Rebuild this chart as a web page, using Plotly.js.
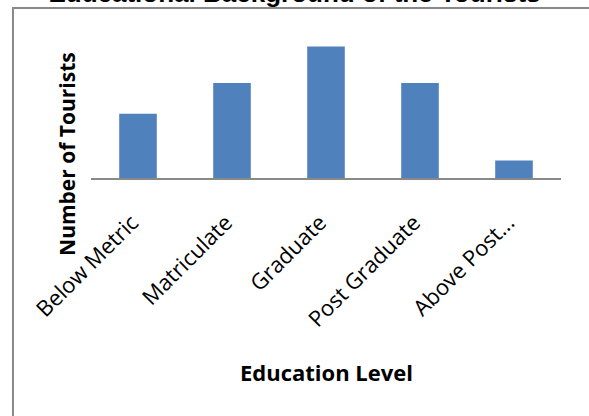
<!DOCTYPE html>
<html>
<head>
<meta charset="utf-8">
<script src="https://cdn.plot.ly/plotly-3.0.1.min.js"></script>
<style>
  html, body { margin: 0; padding: 0; background: #ffffff; }
  #chart { width: 589px; height: 416px; }
</style>
</head>
<body>
<div id="chart"></div>
<script>
const categories = ["Below Metric", "Matriculate", "Graduate", "Post Graduate", "Above Post..."];
const tourists = [22, 32.5, 45, 32.5, 6];
const chartTitle = "Educational Background of the Tourists";
const xTitle = "Education Level";
const yTitle = "Number of Tourists";

const trace = {
  type: "bar",
  x: categories,
  y: tourists,
  marker: { color: "#4F81BD", line: { width: 0 } },
  hoverinfo: "x+y"
};

const layout = {
  width: 589,
  height: 416,
  margin: { l: 91, r: 28, t: 32, b: 238 },
  paper_bgcolor: "#ffffff",
  plot_bgcolor: "#ffffff",
  bargap: 0.6,
  showlegend: false,
  title: {
    text: "<b>" + chartTitle + "</b>",
    font: { family: "Liberation Sans, Arial, sans-serif", size: 26, color: "#000000" },
    x: 0.5, xref: "container", xanchor: "center",
    y: 1, yref: "container", yanchor: "top",
    pad: { t: -16 }
  },
  xaxis: {
    type: "category",
    showline: true,
    linecolor: "#898989",
    linewidth: 2,
    ticks: "",
    tickangle: -45,
    ticklabelstandoff: 21,
    ticklabelshift: -6,
    tickfont: { family: "Open Sans, sans-serif", size: 22, color: "#000000" },
    showgrid: false,
    zeroline: false
  },
  yaxis: {
    range: [0, 50],
    showline: false,
    showticklabels: false,
    ticks: "",
    showgrid: false,
    zeroline: false
  },
  annotations: [
    {
      text: "<b>" + yTitle + "</b>",
      textangle: -90,
      xref: "paper", yref: "paper",
      x: -0.051, y: 0.165,
      xanchor: "center", yanchor: "middle",
      showarrow: false,
      font: { family: "Open Sans, sans-serif", size: 21, color: "#000000" }
    },
    {
      text: "<b>" + xTitle + "</b>",
      xref: "paper", yref: "paper",
      x: 0.5, y: -1.33,
      xanchor: "center", yanchor: "middle",
      showarrow: false,
      font: { family: "Open Sans, sans-serif", size: 22, color: "#000000" }
    }
  ],
  shapes: [
    {
      type: "rect",
      xref: "paper", yref: "paper",
      x0: -0.166, x1: 1.3, y0: -2.0, y1: 1.165,
      line: { color: "#898989", width: 2 },
      fillcolor: "rgba(0,0,0,0)",
      layer: "below"
    }
  ]
};

Plotly.newPlot("chart", [trace], layout, { displayModeBar: false, staticPlot: true });
</script>
</body>
</html>
